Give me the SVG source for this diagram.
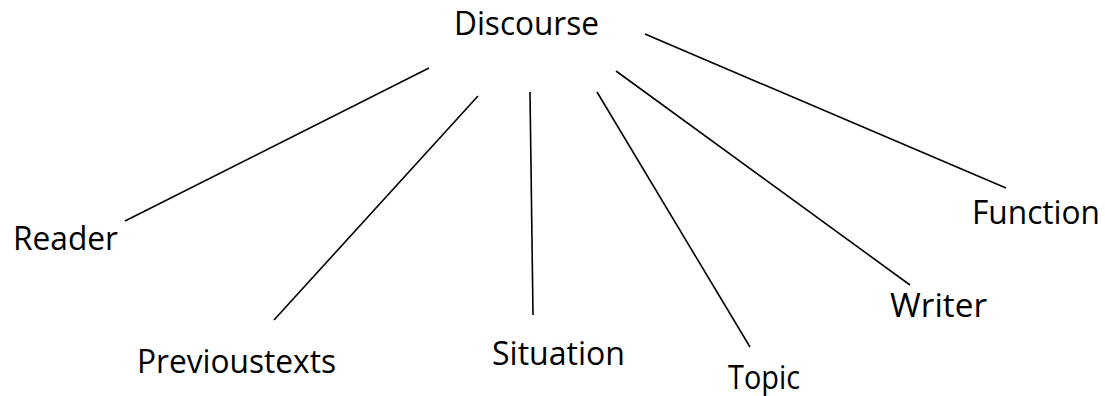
<svg xmlns="http://www.w3.org/2000/svg" width="1105" height="396" viewBox="0 0 1105 396">
<style>
.lbl{font-family:"Open Sans","Liberation Sans",sans-serif;font-size:32px;fill:#000}
.con line{stroke:#000;stroke-width:1.6;fill:none}
</style>
<rect width="1105" height="396" fill="#fff"/>
<g class="con" id="connectors">
<line x1="429" y1="68" x2="125" y2="221"/>
<line x1="478" y1="96" x2="274" y2="320"/>
<line x1="530" y1="92" x2="533" y2="315"/>
<line x1="597" y1="92" x2="750" y2="347"/>
<line x1="616" y1="71" x2="910" y2="285"/>
<line x1="645" y1="34" x2="1006" y2="188"/>
</g>
<g id="discourse"><text class="lbl" x="454" y="35" textLength="145" lengthAdjust="spacingAndGlyphs">Discourse</text></g>
<g id="reader"><text class="lbl" x="13" y="250" textLength="105" lengthAdjust="spacingAndGlyphs">Reader</text></g>
<g id="previoustexts"><text class="lbl" x="137" y="373" textLength="199" lengthAdjust="spacingAndGlyphs">Previoustexts</text></g>
<g id="situation"><text class="lbl" x="492" y="365" textLength="133" lengthAdjust="spacingAndGlyphs">Situation</text></g>
<g id="topic"><text class="lbl" x="728" y="389" textLength="72" lengthAdjust="spacingAndGlyphs">Topic</text></g>
<g id="writer"><text class="lbl" x="890" y="317" textLength="97" lengthAdjust="spacingAndGlyphs">Writer</text></g>
<g id="function"><text class="lbl" x="972" y="224" textLength="128" lengthAdjust="spacingAndGlyphs">Function</text></g>
</svg>
